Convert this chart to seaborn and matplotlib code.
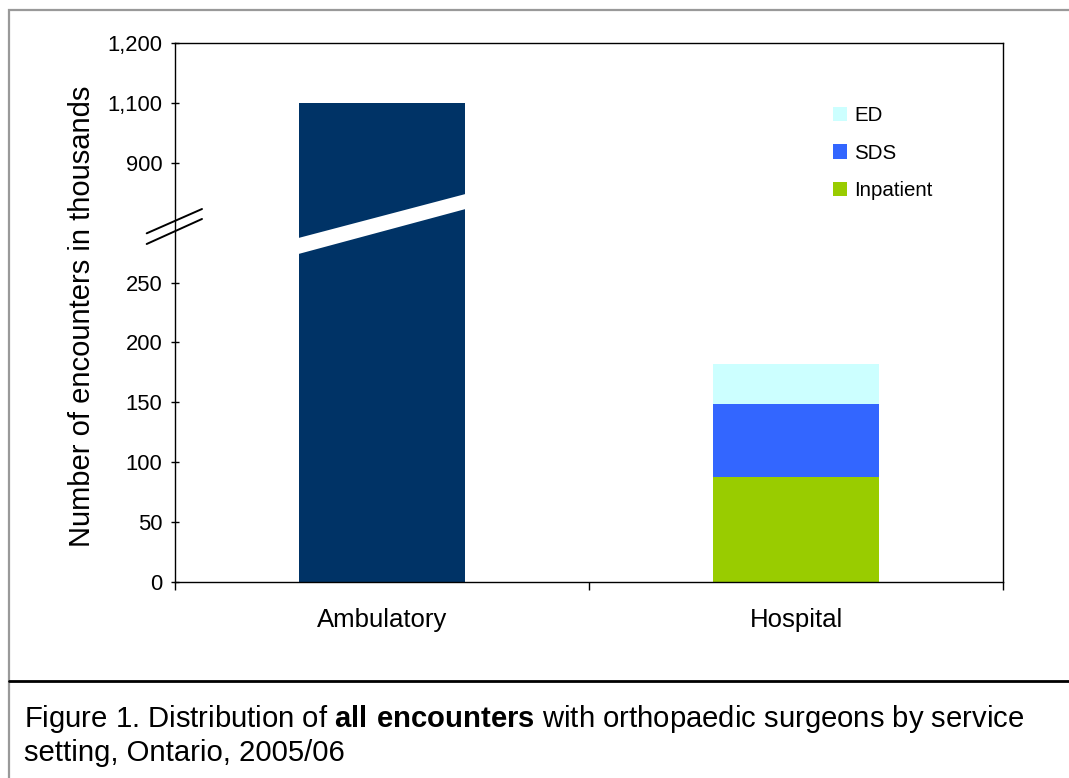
import numpy as np
import pandas as pd
import matplotlib
matplotlib.use("Agg")
import matplotlib.pyplot as plt
import matplotlib.transforms as mtransforms
from matplotlib.patches import Patch, Rectangle, Polygon
from matplotlib.lines import Line2D
import seaborn as sns

# ---------------- data ----------------
categories = ["Ambulatory", "Hospital"]
ambulatory_value = 1100
hospital_components = ["Inpatient", "SDS", "ED"]
hospital_values = [88, 61, 33]
ytick_values = [0, 50, 100, 150, 200, 250, 900, 1100, 1200]
ytick_labels = ["0", "50", "100", "150", "200", "250", "900", "1,100", "1,200"]
ylabel_text = "Number of encounters in thousands"
caption_text = ("Figure 1. Distribution of $\\mathbf{all\\ encounters}$ with orthopaedic surgeons by service\n"
                "setting, Ontario, 2005/06")

# broken-axis mapping (axis value -> linear position)
break_values = [0, 250, 900, 1100, 1200]
break_positions = [0, 250, 350, 400, 450]

colors = {"Ambulatory": "#003366", "Inpatient": "#99CC00", "SDS": "#3366FF", "ED": "#CCFFFF"}

# ---------------- style ----------------
sns.set_style("white")
plt.rcParams["font.family"] = ["Liberation Sans", "DejaVu Sans"]
plt.rcParams["mathtext.fontset"] = "custom"
plt.rcParams["mathtext.rm"] = "Liberation Sans"
plt.rcParams["mathtext.bf"] = "Liberation Sans:bold"
for key in ["text.color", "axes.labelcolor", "xtick.color", "ytick.color", "axes.edgecolor"]:
    plt.rcParams[key] = "black"


def _piecewise(v, xp, fp):
    v = np.asarray(v, dtype=float)
    out = np.interp(v, xp, fp)
    lo = v < xp[0]
    hi = v > xp[-1]
    out = np.where(lo, fp[0] + (v - xp[0]) * (fp[1] - fp[0]) / (xp[1] - xp[0]), out)
    out = np.where(hi, fp[-1] + (v - xp[-1]) * (fp[-1] - fp[-2]) / (xp[-1] - xp[-2]), out)
    return out


def fwd(v):
    return _piecewise(v, break_values, break_positions)


def inv(p):
    return _piecewise(p, break_positions, break_values)


fig = plt.figure(figsize=(10.69, 7.78), dpi=100)
ax = fig.add_axes([175 / 1069, 1 - 582 / 778, 828 / 1069, 539 / 778])

# ambulatory bar
amb_df = pd.DataFrame({"category": ["Ambulatory"], "value": [ambulatory_value]})
sns.barplot(data=amb_df, x="category", y="value", order=categories,
            color=colors["Ambulatory"], saturation=1, width=0.4, linewidth=0, ax=ax)
amb_patch = ax.patches[-1]

# hospital stacked bar: draw cumulative totals from the top down
cum = np.cumsum(hospital_values)
for comp, total in reversed(list(zip(hospital_components, cum))):
    hdf = pd.DataFrame({"category": ["Hospital"], "value": [total]})
    sns.barplot(data=hdf, x="category", y="value", order=categories,
                color=colors[comp], saturation=1, width=0.4, linewidth=0, ax=ax)

ax.set_yscale("function", functions=(fwd, inv))
ax.set_ylim(0, 1200)
ax.set_xlim(-0.5, 1.5)
ax.set_yticks(ytick_values)
ax.set_yticklabels(ytick_labels)
ax.yaxis.set_minor_locator(matplotlib.ticker.NullLocator())
ax.set_xticks([0, 1])
ax.set_xticklabels(categories)
ax.set_xticks([-0.5, 0.5, 1.5], minor=True)
ax.set_xlabel("")
ax.set_ylabel(ylabel_text, fontsize=21)
ax.yaxis.set_label_coords(-0.095, 0.492)

ax.tick_params(axis="y", which="major", direction="inout", length=6, width=1,
               labelsize=15.8, pad=6, color="black", left=True)
ax.tick_params(axis="x", which="major", length=0, labelsize=18.5, pad=19)
ax.tick_params(axis="x", which="minor", direction="out", length=6, width=1,
               color="black", bottom=True)
for s in ax.spines.values():
    s.set_visible(True)
    s.set_color("black")
    s.set_linewidth(1.0)

# white break stripe through the ambulatory bar
x0 = amb_patch.get_x() - 0.002
x1 = amb_patch.get_x() + amb_patch.get_width() + 0.002
blend = mtransforms.blended_transform_factory(ax.transData, ax.transAxes)
ax.add_patch(Polygon([(x0, 0.6085), (x1, 0.692), (x1, 0.7199), (x0, 0.6382)],
                     closed=True, facecolor="white", edgecolor="none",
                     transform=blend, zorder=5))

# break marks on the y axis
for ya, yb in [(0.6469, 0.692), (0.6271, 0.6735)]:
    ax.add_line(Line2D([-0.0342, 0.0326], [ya, yb], transform=ax.transAxes,
                       color="black", lw=1.4, clip_on=False, zorder=6))

# legend
handles = [Patch(facecolor=colors[c], edgecolor="none", label=c) for c in ["ED", "SDS", "Inpatient"]]
leg = ax.legend(handles=handles, loc="upper left", bbox_to_anchor=(0.785, 0.898),
                frameon=False, fontsize=14.8, handlelength=0.68, handleheight=0.68,
                handletextpad=0.33, labelspacing=0.9, borderaxespad=0)

# figure frame, caption separator and caption
fig.patches.append(Rectangle((8.5 / 1069, -0.1), 1.2, 1.1 - 10 / 778, transform=fig.transFigure,
                             fill=False, edgecolor="#999999", lw=1.6, zorder=0))
fig.lines.append(Line2D([8.5 / 1069, 1.0], [1 - 680.5 / 778] * 2, transform=fig.transFigure,
                        color="black", lw=2.0))
fig.text(24 / 1069, 1 - 703 / 778, caption_text, ha="left", va="top", fontsize=21.1,
         linespacing=1.2)

fig.savefig("out.png", dpi=100)
